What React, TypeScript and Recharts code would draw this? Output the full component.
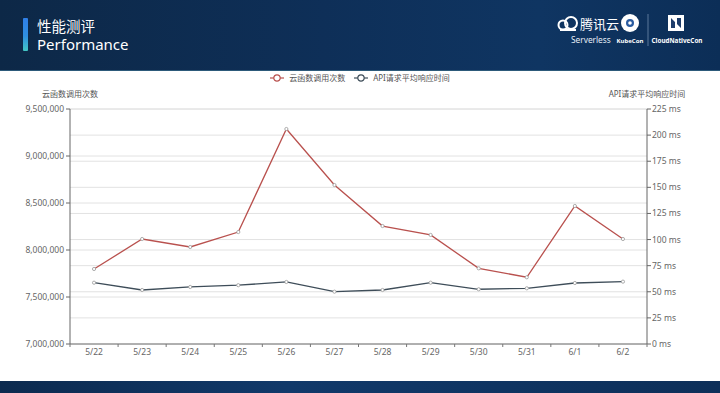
import React from 'react';
import { ComposedChart, Line, XAxis, YAxis, CartesianGrid } from 'recharts';

const categories = ['5/22', '5/23', '5/24', '5/25', '5/26', '5/27', '5/28', '5/29', '5/30', '5/31', '6/1', '6/2'];
const invocations = [7798000, 8117000, 8032000, 8191000, 9287000, 8691000, 8255000, 8160000, 7805000, 7710000, 8468000, 8117000];
const latencyMs = [58.7, 51.7, 54.6, 56.3, 59.4, 50.1, 51.7, 58.7, 52.4, 53.3, 58.4, 59.7];
const leftTicks = [7000000, 7500000, 8000000, 8500000, 9000000, 9500000];
const rightTicks = [0, 25, 50, 75, 100, 125, 150, 175, 200, 225];
const seriesNames = ['云函数调用次数', 'API请求平均响应时间'];
const leftAxisTitle = '云函数调用次数';
const rightAxisTitle = 'API请求平均响应时间';

const data = categories.map((c, i) => ({ day: c, calls: invocations[i], latency: latencyMs[i] }));

const W = 720;
const H = 393;
const LEFT_W = 70;
const RIGHT_W = 73;
const BAND = (W - LEFT_W - RIGHT_W) / categories.length;
const RED = '#b9514e';
const DARK = '#3e4d59';
const FONT = '"Noto Sans", "Noto Sans CJK SC", sans-serif';
const TICK_MARGIN = 5;

const XTick = (props: any) => {
  const { x, y, payload, index } = props;
  const axisY = y - TICK_MARGIN;
  const bx = x - BAND / 2;
  const isLast = index === categories.length - 1;
  return (
    <g>
      <line x1={bx} x2={bx} y1={axisY} y2={axisY + 3} stroke="#777" />
      {isLast && <line x1={x + BAND / 2} x2={x + BAND / 2} y1={axisY} y2={axisY + 3} stroke="#777" />}
      <text x={x} y={y} dy="0.71em" textAnchor="middle" fill="#666" fontSize={8.5} fontFamily={FONT}>
        {payload.value}
      </text>
    </g>
  );
};

const AxisTitle = (props: any) => {
  const { viewBox, text, side } = props;
  if (!viewBox) return null;
  const cx = side === 'left' ? viewBox.x + viewBox.width : viewBox.x;
  return (
    <text x={cx} y={viewBox.y - 12} textAnchor="middle" fill="#555" fontSize={8} fontFamily={FONT}>
      {text}
    </text>
  );
};

const LegendIcon = ({ color }: { color: string }) => (
  <svg width={14} height={8} style={{ display: 'block' }}>
    <line x1={0} x2={14} y1={4} y2={4} stroke={color} strokeWidth={1.2} />
    <circle cx={7} cy={4} r={3.2} fill="#fff" stroke={color} strokeWidth={1.2} />
  </svg>
);

const Header = () => (
  <div
    style={{
      position: 'absolute',
      left: 0,
      top: 0,
      width: W,
      height: 71,
      background: 'linear-gradient(90deg, #0d2847 0%, #0e2f58 45%, #0f3562 75%, #0c2e57 100%)',
      borderBottom: '1px solid #2d5a7a',
      boxSizing: 'border-box',
    }}
  >
    <div
      style={{
        position: 'absolute',
        left: 23,
        top: 18,
        width: 5,
        height: 33,
        borderRadius: 1,
        background: 'linear-gradient(180deg, #2f7fe8 0%, #2f8fe0 55%, #43c7c4 100%)',
      }}
    />
    <div style={{ position: 'absolute', left: 37, top: 18, height: 15, color: '#fff', fontSize: 14.5, fontFamily: '"Noto Sans CJK SC", sans-serif', lineHeight: '15px' }}>
      性能测评
    </div>
    <div style={{ position: 'absolute', left: 37, top: 35.5, height: 16, color: '#fff', fontSize: 15, fontFamily: FONT, lineHeight: '16px' }}>
      Performance
    </div>
    <svg style={{ position: 'absolute', left: 555, top: 12 }} width={160} height={40}>
      <g fill="none" stroke="#fff" strokeWidth={2}>
        <circle cx={8} cy={13} r={4.5} />
        <circle cx={16} cy={11} r={6} />
        <path d="M5 18 H21" />
      </g>
      <text x={25} y={17} fill="#fff" fontSize={13} fontFamily='"Noto Sans CJK SC", sans-serif'>腾讯云</text>
      <text x={16} y={31} fill="#e6eef7" fontSize={8.3} fontFamily={FONT}>Serverless</text>
      <circle cx={75} cy={11} r={9} fill="#fff" />
      <circle cx={75} cy={11} r={4} fill="#2a5ba0" />
      <circle cx={75} cy={11} r={1.8} fill="#fff" />
      <text x={75} y={31} fill="#fff" fontSize={6} fontWeight="bold" textAnchor="middle" fontFamily={FONT}>KubeCon</text>
      <line x1={93} x2={93} y1={2} y2={34} stroke="#6f8bab" strokeWidth={0.8} />
      <rect x={113} y={3} width={16} height={16} fill="#fff" />
      <path d="M116 6 L116 16 L120 16 L120 10 L126 16 L126 6 L122 6 L122 12 L116 6 Z" fill="#1d3c6a" />
      <text x={122} y={31} fill="#fff" fontSize={6.3} fontWeight="bold" textAnchor="middle" fontFamily={FONT}>CloudNativeCon</text>
    </svg>
  </div>
);

const Footer = () => (
  <div
    style={{
      position: 'absolute',
      left: 0,
      top: 381,
      width: W,
      height: 12,
      background: 'linear-gradient(90deg, #0c2a4f 0%, #11396a 40%, #0d2f59 100%)',
    }}
  />
);

const LegendBar = () => (
  <div
    style={{
      position: 'absolute',
      left: 0,
      top: 72,
      width: W,
      display: 'flex',
      justifyContent: 'center',
      alignItems: 'center',
      gap: 5,
      fontFamily: FONT,
      fontSize: 8,
      color: '#555',
    }}
  >
    <LegendIcon color={RED} />
    <span style={{ marginRight: 4 }}>{seriesNames[0]}</span>
    <LegendIcon color={DARK} />
    <span>{seriesNames[1]}</span>
  </div>
);

export default function App() {
  return (
    <div style={{ position: 'absolute', left: 0, top: 0, width: W, height: H, background: '#fff', overflow: 'hidden' }}>
      <Header />
      <Footer />
      <LegendBar />
      <div style={{ position: 'absolute', left: 0, top: 0 }}>
        <ComposedChart width={W} height={H} data={data} margin={{ top: 109, right: 0, bottom: 0, left: 0 }}>
          <CartesianGrid yAxisId="left" vertical={false} stroke="#e2e2e2" />
          <CartesianGrid yAxisId="right" vertical={false} stroke="#e2e2e2" />
          <XAxis
            dataKey="day"
            height={49}
            axisLine={{ stroke: '#777' }}
            tickLine={false}
            tickSize={0}
            tickMargin={TICK_MARGIN}
            interval={0}
            padding={{ left: BAND / 2, right: BAND / 2 }}
            tick={<XTick />}
          />
          <YAxis
            yAxisId="left"
            orientation="left"
            width={LEFT_W}
            domain={[7000000, 9500000]}
            ticks={leftTicks}
            tickFormatter={(v: number) => v.toLocaleString('en-US')}
            axisLine={{ stroke: '#666' }}
            tickLine={{ stroke: '#666' }}
            tickSize={4}
            tickMargin={2}
            tick={{ fill: '#666', fontSize: 8.5, fontFamily: FONT }}
            label={<AxisTitle text={leftAxisTitle} side="left" />}
          />
          <YAxis
            yAxisId="right"
            orientation="right"
            width={RIGHT_W}
            domain={[0, 225]}
            ticks={rightTicks}
            tickFormatter={(v: number) => `${v} ms`}
            axisLine={{ stroke: '#666' }}
            tickLine={{ stroke: '#666' }}
            tickSize={4}
            tickMargin={1}
            tick={{ fill: '#666', fontSize: 8.5, fontFamily: FONT, textAnchor: 'start' }}
            label={<AxisTitle text={rightAxisTitle} side="right" />}
          />
          <Line
            yAxisId="left"
            dataKey="calls"
            name={seriesNames[0]}
            stroke={RED}
            strokeWidth={1.3}
            dot={{ r: 1.6, fill: '#fff', stroke: '#999', strokeWidth: 0.8 }}
            isAnimationActive={false}
          />
          <Line
            yAxisId="right"
            dataKey="latency"
            name={seriesNames[1]}
            stroke={DARK}
            strokeWidth={1.3}
            dot={{ r: 1.6, fill: '#fff', stroke: '#999', strokeWidth: 0.8 }}
            isAnimationActive={false}
          />
        </ComposedChart>
      </div>
    </div>
  );
}
